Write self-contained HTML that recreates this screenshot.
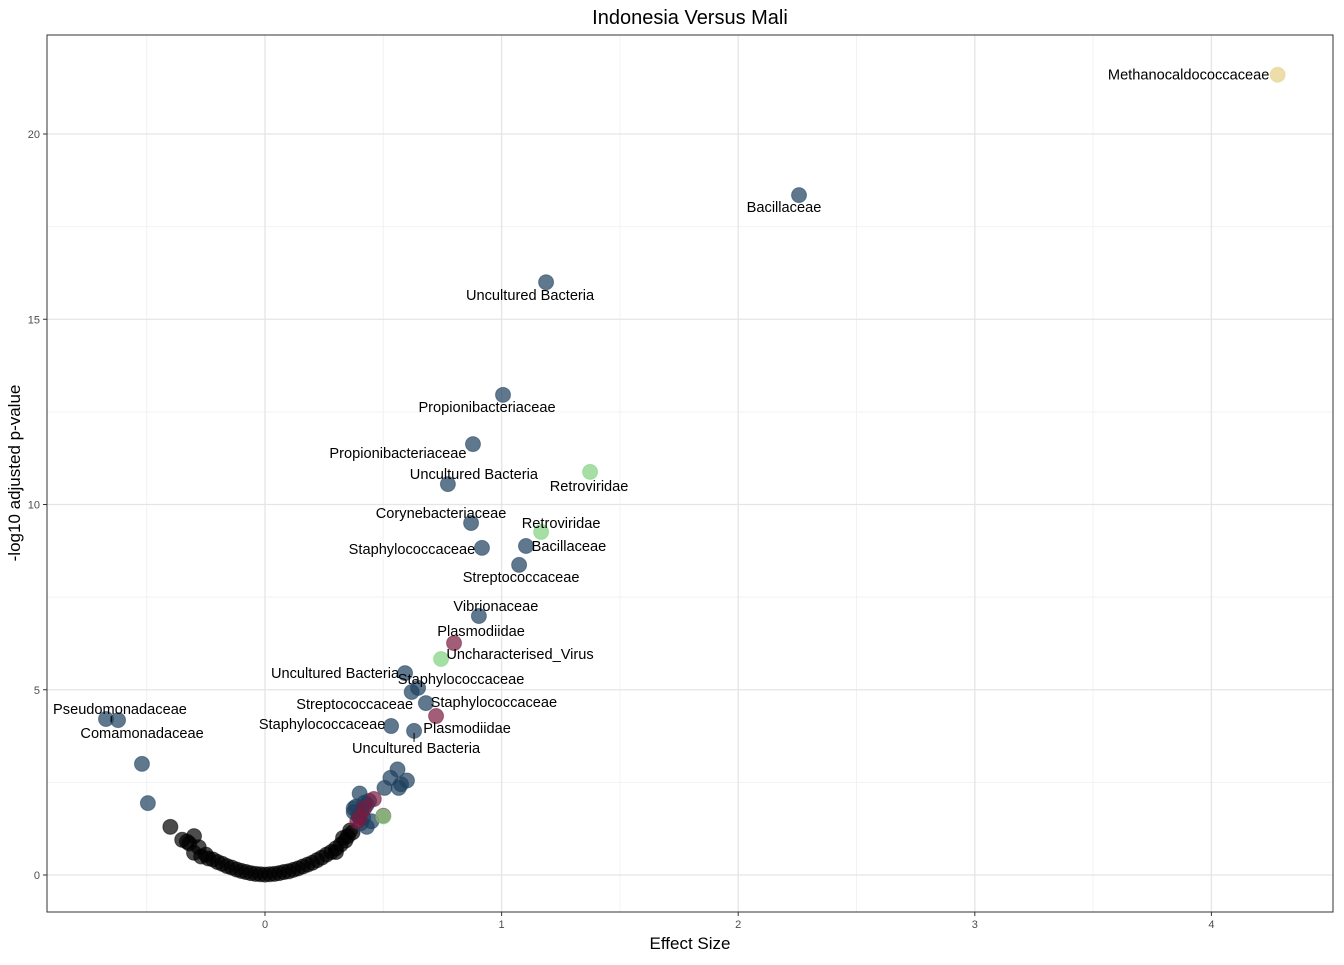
<!DOCTYPE html>
<html><head><meta charset="utf-8"><style>
body{margin:0;background:#fff;}
svg text{font-family:"Liberation Sans",Arial,sans-serif;}
</style></head><body>
<svg id="chart" width="1344" height="960" xmlns="http://www.w3.org/2000/svg">
<rect width="1344" height="960" fill="#fff"/>
<text x="690" y="24" font-size="20" text-anchor="middle">Indonesia Versus Mali</text>
<g id="grid"></g>
<g id="pts"></g>
<g id="labels"></g>
<rect x="47" y="35" width="1286" height="877" fill="none" stroke="#333" stroke-width="1"/>
<g id="axes"></g>
<text x="690" y="949" font-size="17" text-anchor="middle">Effect Size</text>
<text transform="translate(20,473) rotate(-90)" font-size="17" text-anchor="middle">-log10 adjusted p-value</text>
</svg>
<script>
const xTicks=[0,1,2,3,4];
const yTicks=[0,5,10,15,20];
// labelled points
const labX=[4.28,2.257,1.188,1.006,0.879,0.773,1.374,0.871,1.167,0.917,1.103,1.074,0.904,0.799,0.744,0.592,0.647,0.68,0.723,0.533,0.62,0.63,-0.672,-0.621];
const labY=[21.6,18.35,16.0,12.96,11.63,10.55,10.88,9.5,9.26,8.83,8.88,8.37,6.99,6.26,5.83,5.45,5.05,4.64,4.29,4.02,4.94,3.89,4.21,4.18];
const labGroup=["y","b","b","b","b","b","g","b","g","b","b","b","b","r","g","b","b","b","r","b","b","b","b","b"];
const labText=["Methanocaldococcaceae","Bacillaceae","Uncultured Bacteria","Propionibacteriaceae","Propionibacteriaceae","Uncultured Bacteria","Retroviridae","Corynebacteriaceae","Retroviridae","Staphylococcaceae","Bacillaceae","Streptococcaceae","Vibrionaceae","Plasmodiidae","Uncharacterised_Virus","Uncultured Bacteria","Staphylococcaceae","Staphylococcaceae","Plasmodiidae","Staphylococcaceae","Streptococcaceae","Uncultured Bacteria","Pseudomonadaceae","Comamonadaceae"];
const labDx=[-89,-15,-16,-16,-75,26,-1,-30,20,-70,43,2,17,27,79,-70,43,68,31,-69,-57,2,14,24];
const labDy=[0,12,13,12,9,-10,14,-10,-9,1,0,12,-10,-12,-5,0,-9,-1,12,-2,12,17,-10,13];
// other significant points
const sigX=[-0.52,-0.495,0.56,0.6,0.575,0.565,0.53,0.505,0.4,0.375,0.385,0.42,0.43,0.44,0.41,0.395,0.415,0.45,0.405,0.43,0.39,0.375];
const sigY=[3.0,1.94,2.85,2.55,2.45,2.35,2.62,2.35,2.2,1.8,1.85,1.95,1.9,2.0,1.75,1.6,1.55,1.45,1.4,1.3,1.45,1.7];
const sigGroup=["b","b","b","b","b","b","b","b","b","b","b","b","b","b","b","b","b","b","b","b","r","b"];
const redX=[0.46,0.42,0.4,0.5];const redY=[2.05,1.8,1.55,1.6];
const greenX=[0.5];const greenY=[1.58];
// non-significant points
const nsX=[-0.4,-0.35,-0.3,-0.32,-0.28,-0.27,-0.25,-0.22,-0.2,-0.18,-0.16,-0.14,-0.12,-0.1,-0.08,-0.06,-0.04,-0.02,0,0.02,0.04,0.06,0.08,0.1,0.12,0.14,0.16,0.18,0.2,0.22,0.24,0.26,0.28,0.3,0.32,0.34,0.35,0.37,0.36,0.33,0.3,-0.24,-0.3,-0.33];
const nsY=[1.3,0.95,1.05,0.85,0.75,0.5,0.55,0.42,0.35,0.3,0.24,0.2,0.15,0.11,0.08,0.05,0.03,0.02,0.01,0.02,0.03,0.05,0.08,0.1,0.14,0.18,0.23,0.28,0.33,0.4,0.47,0.55,0.62,0.72,0.82,0.93,1.05,1.15,1.2,1.0,0.62,0.45,0.6,0.9];
const X0=265,XS=236.6,Y0=875,YS=37.05;
const xs=v=>X0+v*XS, ys=v=>Y0-v*YS;
const colors={b:"#1d3f5e",r:"#7b1a3e",g:"#7fd17f",y:"#e5cf85",k:"#000"};
const NS="http://www.w3.org/2000/svg";
function mk(t,a,p){const e=document.createElementNS(NS,t);for(const k in a)e.setAttribute(k,a[k]);p.appendChild(e);return e;}
const grid=document.getElementById('grid'),axes=document.getElementById('axes');
[-0.5,0.5,1.5,2.5,3.5].forEach(v=>{const l=mk('line',{x1:xs(v),x2:xs(v),y1:35,y2:912,stroke:'#f2f2f2','stroke-width':1},grid);});
[2.5,7.5,12.5,17.5].forEach(v=>{const l=mk('line',{x1:47,x2:1333,y1:ys(v),y2:ys(v),stroke:'#f2f2f2','stroke-width':1},grid);});
xTicks.forEach(v=>{const l=mk('line',{x1:xs(v),x2:xs(v),y1:35,y2:912,stroke:'#e5e5e5','stroke-width':1.3},grid);
 const t=mk('line',{x1:xs(v),x2:xs(v),y1:912,y2:916,stroke:'#333'},axes);
 const tx=mk('text',{x:xs(v),y:928,'font-size':11,fill:'#4d4d4d','text-anchor':'middle'},axes);tx.textContent=v;});
yTicks.forEach(v=>{const l=mk('line',{x1:47,x2:1333,y1:ys(v),y2:ys(v),stroke:'#e5e5e5','stroke-width':1.3},grid);
 const t=mk('line',{x1:43,x2:47,y1:ys(v),y2:ys(v),stroke:'#333'},axes);
 const tx=mk('text',{x:40,y:ys(v)+4,'font-size':11,fill:'#4d4d4d','text-anchor':'end'},axes);tx.textContent=v;});
const pts=document.getElementById('pts');
function dot(x,y,g){const c=mk('circle',{cx:xs(x),cy:ys(y),r:7.5,fill:colors[g],'fill-opacity':0.7,stroke:colors[g],'stroke-opacity':0.5},pts);}
nsX.forEach((x,i)=>dot(x,nsY[i],'k'));
sigX.forEach((x,i)=>dot(x,sigY[i],sigGroup[i]));
redX.forEach((x,i)=>dot(x,redY[i],'r'));
greenX.forEach((x,i)=>dot(x,greenY[i],'g'));
labX.forEach((x,i)=>dot(x,labY[i],labGroup[i]));
const labs=document.getElementById('labels');
labX.forEach((x,i)=>{const t=mk('text',{x:xs(x)+labDx[i],y:ys(labY[i])+labDy[i]+5,'font-size':14.6,'text-anchor':'middle'},labs);t.textContent=labText[i];});
const seg=mk('line',{x1:xs(0.63),y1:ys(3.89)+2,x2:xs(0.63),y2:ys(3.89)+11,stroke:'#000'},labs);
const seg2=mk('line',{x1:xs(-0.65),y1:ys(4.21)-3,x2:xs(-0.65),y2:ys(4.21)+3,stroke:'#000'},labs);
</script>
</body></html>
